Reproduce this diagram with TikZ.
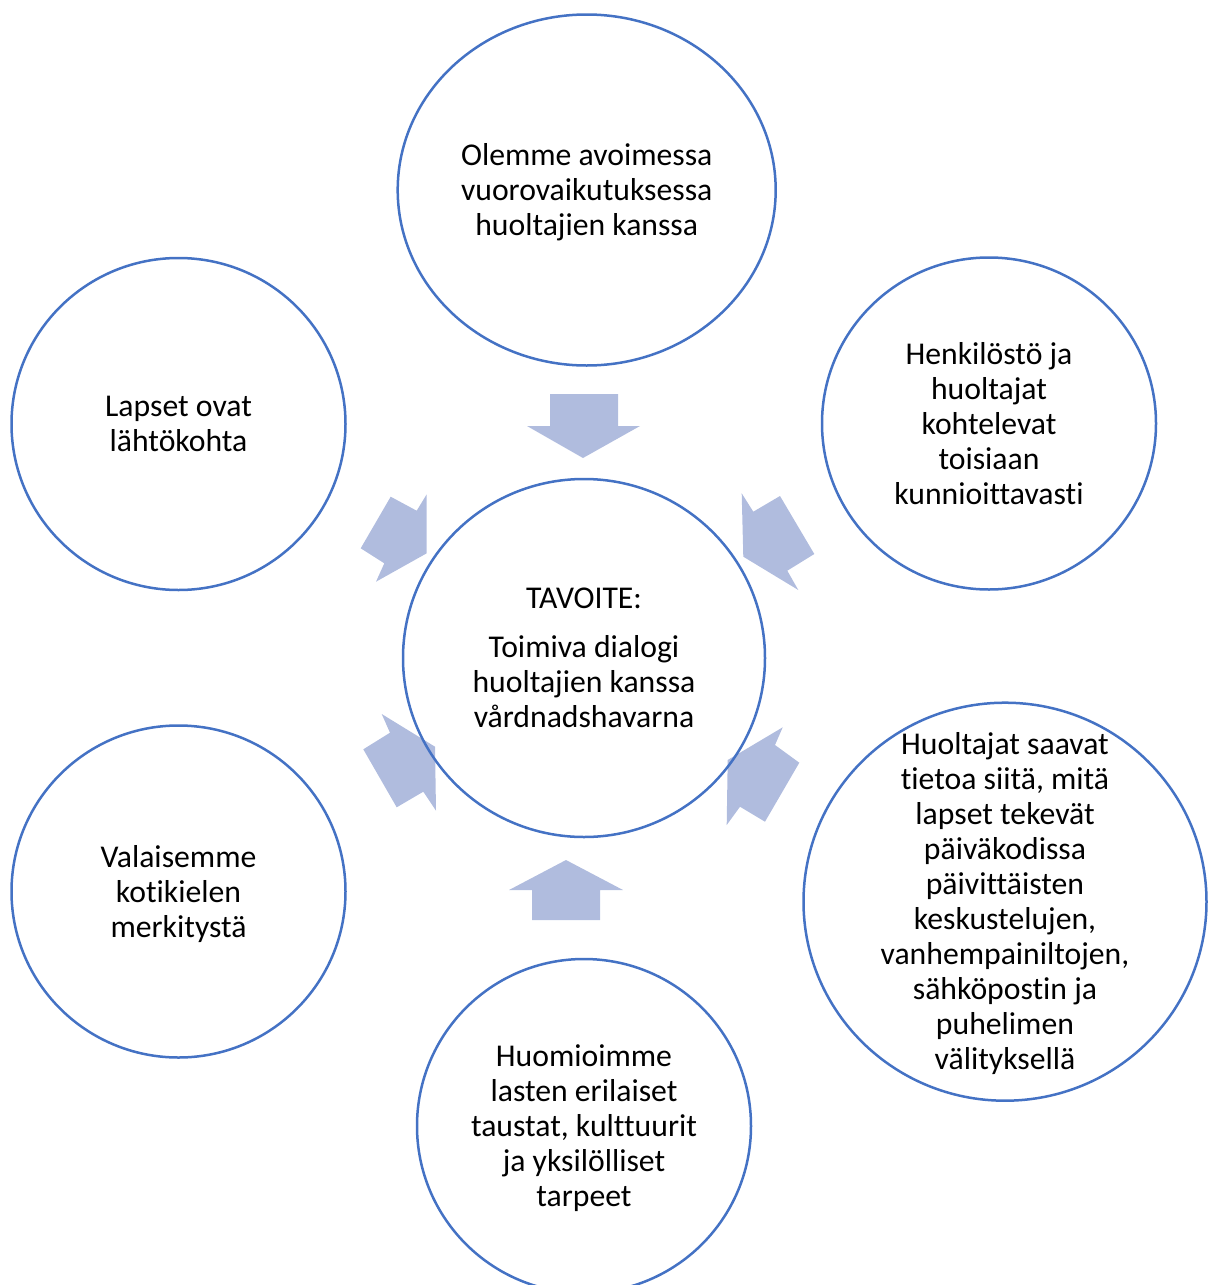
\documentclass[tikz,border=0pt]{standalone}
\usepackage{fontspec}
\setmainfont[Ligatures={NoCommon}]{Carlito}
\usepackage{tikz}
\usetikzlibrary{shapes.geometric}
\definecolor{ringB}{RGB}{68,114,196}
\definecolor{arrowB}{RGB}{176,188,222}
\tikzset{ring/.style={ellipse, draw=ringB, line width=2.5pt, inner sep=0pt},
  ringtext/.style={align=center, font=\fontsize{31.7}{35}\selectfont, inner sep=0pt, yshift=-5pt,
    execute at begin node=\strut, execute at end node=\strut}}

\begin{document}
\begin{tikzpicture}[x=1pt, y=-1pt]
\useasboundingbox (0,0) rectangle (1210,1285);
% Block arrows, all pointing in to the goal
\fill[arrowB] (550,394) -- (618,394) -- (618,426) -- (640,426) -- (583,458) -- (527,426) -- (550,426) -- cycle;
\fill[arrowB] (741.7,493.3) -- (753.3,511.7) -- (780,496) -- (814.3,554) -- (787.3,570.7) -- (798.3,590) -- (743.3,556.7) -- cycle;
\fill[arrowB] (782.7,727.3) -- (775,745) -- (799.3,762.7) -- (765,821.7) -- (740,806.7) -- (726.7,825) -- (727.7,760) -- cycle;
\fill[arrowB] (566,860) -- (623,890) -- (600,890) -- (600,920) -- (532,920) -- (532,890) -- (509,890) -- cycle;
\fill[arrowB] (381.7,714) -- (390,732.7) -- (363.3,749.3) -- (396.7,807.3) -- (423.3,791.7) -- (436,810.7) -- (435,746.7) -- cycle;
\fill[arrowB] (390.7,496.7) -- (416.7,510.7) -- (426.7,494.3) -- (426.7,553.3) -- (376,581.7) -- (384.3,563.3) -- (360.7,548.3) -- cycle;
% Circles
\node[ring, minimum width=378pt, minimum height=351pt] (open) at (586.7,190) {};
\node[ring, minimum width=362pt, minimum height=358pt] (goal) at (584,658) {};
\node[ring, minimum width=334pt, minimum height=332pt] (children) at (178.5,424) {};
\node[ring, minimum width=334pt, minimum height=332pt] (respect) at (989,423.5) {};
\node[ring, minimum width=334pt, minimum height=332pt] (homelang) at (178.5,891.5) {};
\node[ring, minimum width=403pt, minimum height=398pt] (info) at (1005,901.7) {};
\node[ring, minimum width=334pt, minimum height=334pt] (diverse) at (584,1126) {};
% Texts
\node[ringtext] (openT) at (open) {Olemme avoimessa\\ vuorovaikutuksessa\\ huoltajien kanssa};
\node[ringtext] (goalT) at (goal) {TAVOITE:\\[14pt] Toimiva dialogi\\ huoltajien kanssa\\ vårdnadshavarna};
\node[ringtext] (childrenT) at (children) {Lapset ovat\\ lähtökohta};
\node[ringtext] (respectT) at (respect) {Henkilöstö ja\\ huoltajat\\ kohtelevat\\ toisiaan\\ kunnioittavasti};
\node[ringtext] (homelangT) at (homelang) {Valaisemme\\ kotikielen\\ merkitystä};
\node[ringtext] (infoT) at (info) {Huoltajat saavat\\ tietoa siitä, mitä\\ lapset tekevät\\ päiväkodissa\\ päivittäisten\\ keskustelujen,\\ vanhempainiltojen,\\ sähköpostin ja\\ puhelimen\\ välityksellä};
\node[ringtext] (diverseT) at (diverse) {Huomioimme\\ lasten erilaiset\\ taustat, kulttuurit\\ ja yksilölliset\\ tarpeet};
\end{tikzpicture}
\end{document}
